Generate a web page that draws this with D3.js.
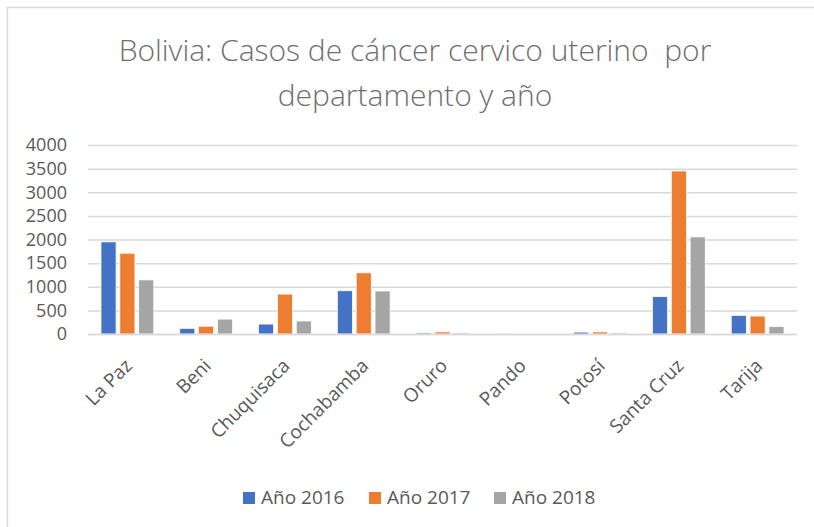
<!DOCTYPE html>
<html>
<head>
<meta charset="utf-8">
<script src="https://cdn.jsdelivr.net/npm/d3@7"></script>
<style>
  html, body { margin: 0; padding: 0; background: #fff; }
  svg { display: block; font-family: "Open Sans", "Noto Sans", sans-serif; }
</style>
</head>
<body>
<svg id="chart" width="814" height="527"></svg>
<script>
// Departamentos y casos registrados por año
const departamentos = ["La Paz", "Beni", "Chuquisaca", "Cochabamba", "Oruro", "Pando", "Potosí", "Santa Cruz", "Tarija"];
const series = ["Año 2016", "Año 2017", "Año 2018"];
const casos2016 = [1950, 120, 210, 915, 25, 5, 40, 790, 395];
const casos2017 = [1710, 165, 845, 1295, 45, 3, 45, 3450, 380];
const casos2018 = [1145, 315, 275, 910, 25, 2, 25, 2055, 155];
const yTicks = [0, 500, 1000, 1500, 2000, 2500, 3000, 3500, 4000];
const colores = ["#4472C4", "#ED7D31", "#A5A5A5"];

const valores = [casos2016, casos2017, casos2018];
const tabla = departamentos.map((d, i) => ({ dep: d, vals: valores.map(v => v[i]) }));

const svg = d3.select("#chart");
const W = 814, H = 527;
const margin = { left: 88, right: 17, top: 145, bottom: 193 };
const plotW = W - margin.left - margin.right;
const plotH = H - margin.top - margin.bottom;
const textColor = "#595959";

// marco exterior del gráfico
svg.append("path")
  .attr("d", `M7.5,${H} L7.5,7.5 L${W},7.5`)
  .attr("fill", "none").attr("stroke", "#d9d9d9").attr("stroke-width", 1.5);

// título
const title = svg.append("text")
  .attr("text-anchor", "middle")
  .attr("fill", "#6e6e6e")
  .attr("font-size", 30)
  .attr("font-weight", 300);
title.append("tspan").attr("x", 415).attr("y", 61).text("Bolivia: Casos de cáncer cervico uterino \u00a0por");
title.append("tspan").attr("x", 415).attr("y", 106).text("departamento y año");

const g = svg.append("g").attr("transform", `translate(${margin.left},${margin.top})`);

const x = d3.scaleBand().domain(departamentos).range([0, plotW]).paddingInner(0.33).paddingOuter(0.165);
const xs = d3.scaleBand().domain(series).range([0, x.bandwidth()]).paddingInner(0.2);
const y = d3.scaleLinear().domain([0, 4000]).range([plotH, 0]);

// líneas de cuadrícula y etiquetas del eje Y
const yAxis = d3.axisLeft(y).tickValues(yTicks).tickFormat(d3.format("d")).tickSize(-plotW).tickPadding(21);
const ya = g.append("g").call(yAxis);
ya.select(".domain").remove();
ya.selectAll(".tick line").attr("stroke", "#d9d9d9").attr("stroke-width", 1.5);
ya.selectAll(".tick text").attr("fill", textColor).attr("font-size", 18).attr("font-family", "'Open Sans', sans-serif");

// barras
const grupos = g.selectAll(".dep").data(tabla).enter().append("g")
  .attr("transform", d => `translate(${x(d.dep)},0)`);
grupos.selectAll("rect").data(d => d.vals.map((v, k) => ({ s: series[k], v, k })))
  .enter().append("rect")
  .attr("x", d => xs(d.s))
  .attr("width", xs.bandwidth())
  .attr("y", d => y(d.v))
  .attr("height", d => plotH - y(d.v))
  .attr("fill", d => colores[d.k])
  .attr("stroke", "#fff").attr("stroke-width", 0.75);

// eje X con etiquetas giradas
const xAxis = d3.axisBottom(x).tickSize(0).tickPadding(0);
const xa = g.append("g").attr("transform", `translate(0,${plotH})`).call(xAxis);
xa.select(".domain").attr("stroke", "#d9d9d9").attr("stroke-width", 1.5)
  .attr("d", `M0,0.5H${plotW}`);
xa.selectAll(".tick text")
  .attr("fill", textColor).attr("font-size", 19).attr("font-family", "'Open Sans', sans-serif")
  .attr("text-anchor", "end")
  .attr("dy", 0)
  .attr("y", 0)
  .attr("transform", "translate(6,33) rotate(-45)");

// leyenda
const legendX = [243, 369, 494];
const leg = svg.append("g");
series.forEach((s, k) => {
  const it = leg.append("g").attr("transform", `translate(${legendX[k]},492)`);
  it.append("rect").attr("width", 12).attr("height", 12).attr("fill", colores[k]);
  it.append("text").attr("x", 18).attr("y", 12).attr("fill", textColor)
    .attr("font-size", 19).text(s);
});
</script>
</body>
</html>
